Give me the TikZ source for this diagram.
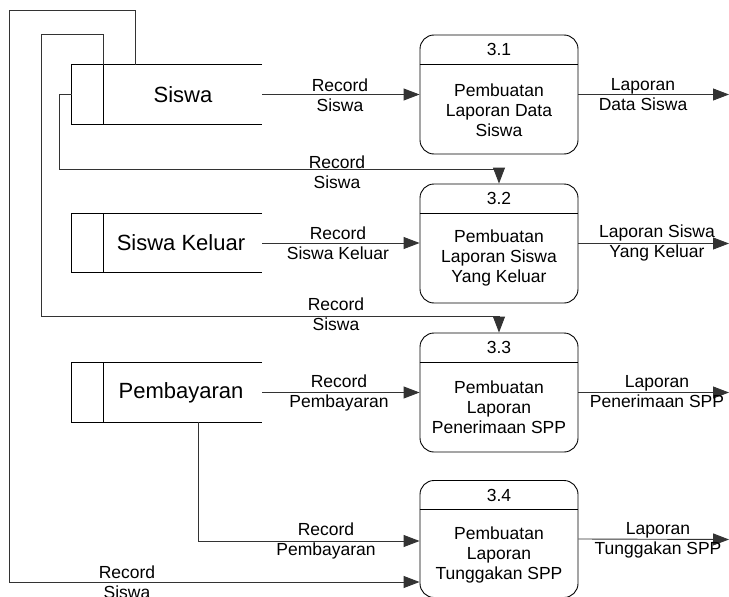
\documentclass[tikz,border=0pt]{standalone}
\usepackage{fontspec}
\setmainfont{Liberation Sans}
\usetikzlibrary{arrows.meta}
\begin{document}
\begin{tikzpicture}[x=1pt,y=-1pt,
  flow/.style={draw=black!80, line width=0.9pt, -{Triangle[length=16pt,width=12pt]}},
  edge/.style={draw=black, line width=0.9pt},
  proc/.style={draw=black, line width=0.9pt, rounded corners=14pt, minimum width=158pt, inner sep=0pt},
  storebox/.style={minimum width=190pt, minimum height=59pt, inner sep=0pt, draw=none},
  storetxt/.style={font=\fontsize{22}{26}\selectfont, inner sep=0pt},
  lbl/.style={font=\fontsize{17.5}{20}\selectfont, align=center, inner sep=0pt},
]
\useasboundingbox (0,0) rectangle (729,597);

% data stores
\foreach \n/\y in {s1/94.5, s2/243, s3/392.5}{
  \node[storebox] (\n) at (167,\y) {};
  \draw[edge] (\n.north east) -- (\n.north west) -- (\n.south west) -- (\n.south east);
  \draw[edge] ([xshift=32pt]\n.north west) -- ([xshift=32pt]\n.south west);
}
\node[storetxt] (s1t) at (183,94.5) {Siswa};
\node[storetxt] (s2t) at (181,243) {Siswa Keluar};
\node[storetxt] (s3t) at (181,392.5) {Pembayaran};

% processes
\node[proc, minimum height=119pt] (p1) at (499,94.5) {};
\node[proc, minimum height=119pt] (p2) at (499,243.5) {};
\node[proc, minimum height=119pt] (p3) at (499,392.5) {};
\node[proc, minimum height=117pt] (p4) at (499,539) {};
\foreach \p/\id in {p1/3.1, p2/3.2, p3/3.3, p4/3.4}{
  \draw[edge] ([yshift=-29.5pt]\p.north west) -- ([yshift=-29.5pt]\p.north east);
  \node[lbl] (\p id) at ([yshift=-15pt]\p.north) {\id};
}
\node[lbl] (p1t) at (499,110) {Pembuatan\\Laporan Data\\Siswa};
\node[lbl] (p2t) at (499,257.5) {Pembuatan\\Laporan Siswa\\Yang Keluar};
\node[lbl] (p3t) at (499,407) {Pembuatan\\Laporan\\Penerimaan SPP};
\node[lbl] (p4t) at (499,555) {Pembuatan\\Laporan\\Tunggakan SPP};

% outputs
\coordinate (o1) at (729,94.5);
\coordinate (o2) at (729,243.5);
\coordinate (o3) at (729,392.5);
\coordinate (o4) at (729,539.5);
\draw[flow] (p1.east) -- (o1);
\draw[flow] (p2.east) -- (o2);
\draw[flow] (p3.east) -- (o3);
\draw[flow] (p4.east) -- (o4);
\node[lbl] (lo1) at (643,95) {Laporan\\Data Siswa};
\node[lbl] (lo2) at (657,243) {Laporan Siswa\\Yang Keluar};
\node[lbl] (lo3) at (657,392) {Laporan\\Penerimaan SPP};
\node[lbl] (lo4) at (658,540) {Laporan\\Tunggakan SPP};

% inputs
\draw[flow] (s1.east) -- (p1.west);
\draw[flow] (s2.east) -- (p2.west |- s2.east);
\draw[flow] (s3.east) -- (p3.west);
\node[lbl] (l1) at (340,95) {Record\\Siswa};
\node[lbl] (l2) at (338,243) {Record\\Siswa Keluar};
\node[lbl] (l3) at (339,393) {Record\\Pembayaran};

% loops from Siswa
\draw[flow] (s1.west) -- ++(-12,0) -- ++(0,74.5) -| (p2.north);
\node[lbl] (l5) at (337,172.5) {Record\\Siswa};
\draw[flow] ([xshift=32pt]s1.north west) -- ++(0,-30) -| (41,316) -| (p3.north);
\node[lbl] (l6) at (336,314) {Record\\Siswa};
\draw[flow] ([xshift=64pt]s1.north west) -- ++(0,-54) -| (9,582) -- (p4.west |- 9,582);
\node[lbl] (l7) at (127,582) {Record\\Siswa};

% Pembayaran to 3.4
\draw[flow] ([xshift=127pt]s3.south west) |- (p4.west |- 0,541);
\node[lbl] (l4) at (326,541) {Record\\Pembayaran};
\end{tikzpicture}
\end{document}
